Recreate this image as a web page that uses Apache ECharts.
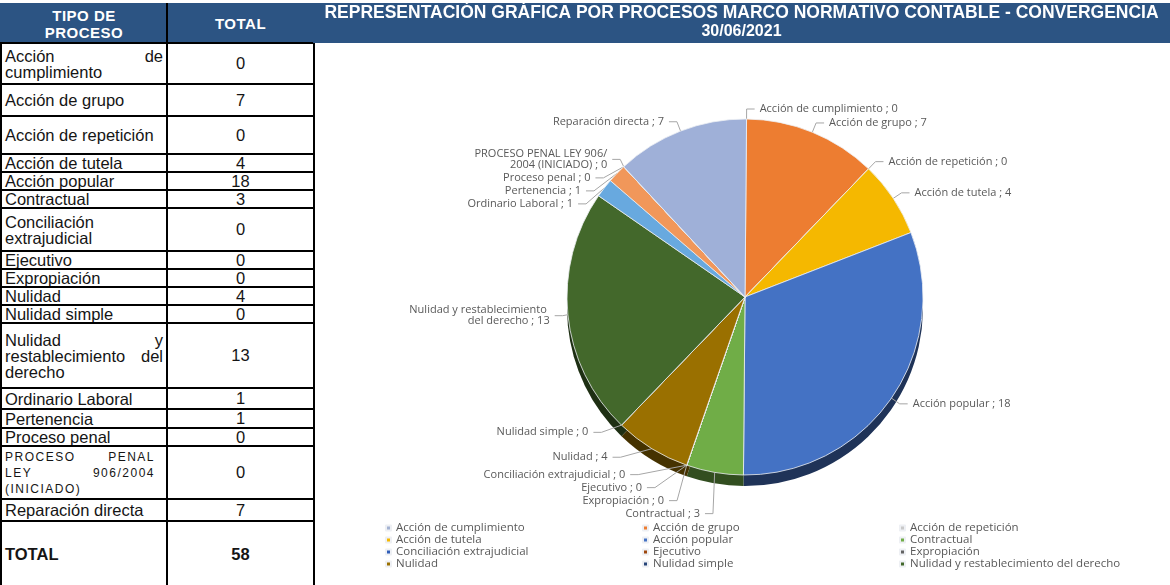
<!DOCTYPE html>
<html>
<head>
<meta charset="utf-8">
<script src="https://cdn.jsdelivr.net/npm/echarts@6/dist/echarts.min.js"></script>
<style>
  body { margin: 0; background: #fff; width: 1170px; height: 585px; overflow: hidden; position: relative;
         font-family: 'Liberation Sans', Arial, sans-serif; }
  #tabla { position: absolute; left: 0; top: 3px; border-collapse: collapse; table-layout: fixed; width: 313px; }
  #tabla td { border: 2px solid #000; padding: 0 3px; color: #151515; font-size: 16.5px; line-height: 15px;
              overflow: hidden; vertical-align: middle; }
  #tabla td.num { text-align: center; }
  #tabla td.cab { background: #2C5483; color: #fff; font-weight: bold; font-size: 15px; line-height: 17px; text-align: center;
                  border-color: #2C5483 #000 #000 #2C5483; letter-spacing: 0.5px; }
  #tabla .just { text-align: justify; text-align-last: left; width: 158px; line-height: 16px; }
  #tabla .mayus { font-size: 12px; letter-spacing: 1.5px; line-height: 16px; width: 150px; }
  #tabla td.tot { font-weight: bold; }
  #grafico { position: absolute; left: 313px; top: 0; width: 857px; height: 585px; }
</style>
</head>
<body>
<table id="tabla">
  <colgroup><col style="width:166px"><col style="width:147px"></colgroup>
  <tbody id="cuerpo"></tbody>
</table>
<div id="grafico"></div>
<script>
const encabezados = ['TIPO DE PROCESO', 'TOTAL'];
const categorias = [
  'Acción de cumplimiento', 'Acción de grupo', 'Acción de repetición', 'Acción de tutela',
  'Acción popular', 'Contractual', 'Conciliación extrajudicial', 'Ejecutivo', 'Expropiación',
  'Nulidad', 'Nulidad simple', 'Nulidad y restablecimiento del derecho', 'Ordinario Laboral',
  'Pertenencia', 'Proceso penal', 'PROCESO PENAL LEY 906/2004 (INICIADO)', 'Reparación directa'
];
const totales = [0, 7, 0, 4, 18, 3, 0, 0, 0, 4, 0, 13, 1, 1, 0, 0, 7];
const totalGeneral = 58;
const titulo = 'REPRESENTACIÓN GRÁFICA POR PROCESOS MARCO NORMATIVO CONTABLE - CONVERGENCIA';
const fechaCorte = '30/06/2021';
const leyenda = categorias.slice(0, 12);

// estilo
const colores = ['#A3B2D2', '#ED7D31', '#C9C9C9', '#F5B800', '#4472C4', '#70AD47', '#2F5DB8', '#9E480E',
                 '#636363', '#9A7000', '#264478', '#43682B', '#68A9DF', '#F1975A', '#B7B7B7', '#FFCD33', '#9FB0D8'];
const altoFilas = [39, 41, 32, 38, 18, 18, 18, 43, 17, 18, 17, 18, 65, 21, 19, 18, 53, 22, 67];

// tabla
const cuerpo = document.getElementById('cuerpo');
let html = '<tr style="height:' + altoFilas[0] + 'px"><td class="cab">TIPO DE<br>PROCESO</td><td class="cab">' + encabezados[1] + '</td></tr>';
categorias.forEach((c, i) => {
  const clase = c === c.toUpperCase() ? 'just mayus' : 'just';
  html += '<tr style="height:' + altoFilas[i + 1] + 'px"><td><div class="' + clase + '">' + c + '</div></td>' +
          '<td class="num">' + totales[i] + '</td></tr>';
});
html += '<tr style="height:' + altoFilas[altoFilas.length - 1] + 'px"><td class="tot">TOTAL</td><td class="num tot">' + totalGeneral + '</td></tr>';
cuerpo.innerHTML = html;

function oscurecer(hex, f) {
  const n = parseInt(hex.slice(1), 16);
  return 'rgb(' + Math.round(((n >> 16) & 255) * f) + ',' + Math.round(((n >> 8) & 255) * f) + ',' + Math.round((n & 255) * f) + ')';
}

const myChart = echarts.init(document.getElementById('grafico'));
const option = {
  animation: false,
  color: colores,
  graphic: [{
    type: 'rect', z: -10,
    shape: { x: 0, y: 3, width: 857, height: 40 },
    style: { fill: '#2C5483' }
  }],
  title: {
    text: titulo,
    subtext: fechaCorte,
    left: 'center',
    top: 4,
    itemGap: 2,
    padding: 0,
    textStyle: { color: '#fff', fontSize: 17.5, fontWeight: 'bold', fontFamily: 'Liberation Sans' },
    subtextStyle: { color: '#fff', fontSize: 16, fontWeight: 'bold', fontFamily: 'Liberation Sans' }
  },
  legend: {
    data: leyenda,
    left: 72,
    top: 522,
    width: 790,
    padding: 0,
    icon: 'rect',
    itemWidth: 5,
    itemHeight: 5,
    itemGap: 0,
    selectedMode: false,
    textStyle: { color: '#595959', fontSize: 11.5, fontFamily: 'Open Sans', width: 246, lineHeight: 10 }
  },
  series: [
    {
      name: 'Procesos',
      type: 'pie',
      center: [432, 297],
      radius: 178,
      startAngle: 89.5,
      z: 3,
      data: categorias.map((c, i) => ({ name: c, value: totales[i], itemStyle: { color: colores[i] } })),
      itemStyle: { borderColor: '#eef0f4', borderWidth: 0.8 },
      label: {
        formatter: '{b} ; {c}',
        color: '#595959',
        fontSize: 11,
        fontFamily: 'Open Sans',
        width: 150,
        overflow: 'break',
        lineHeight: 11
      },
      labelLine: { length: 10, length2: 8, lineStyle: { color: '#A6A6A6', width: 1 } },
      emphasis: { disabled: true }
    },
    {
      name: 'Fondo',
      type: 'pie',
      center: [432, 308],
      radius: 178,
      startAngle: 89.5,
      z: 2,
      silent: true,
      data: categorias.map((c, i) => ({ name: c, value: totales[i], itemStyle: { color: oscurecer(colores[i], 0.45) } })),
      label: { show: false },
      labelLine: { show: false }
    }
  ]
};
myChart.setOption(option);
</script>
</body>
</html>
